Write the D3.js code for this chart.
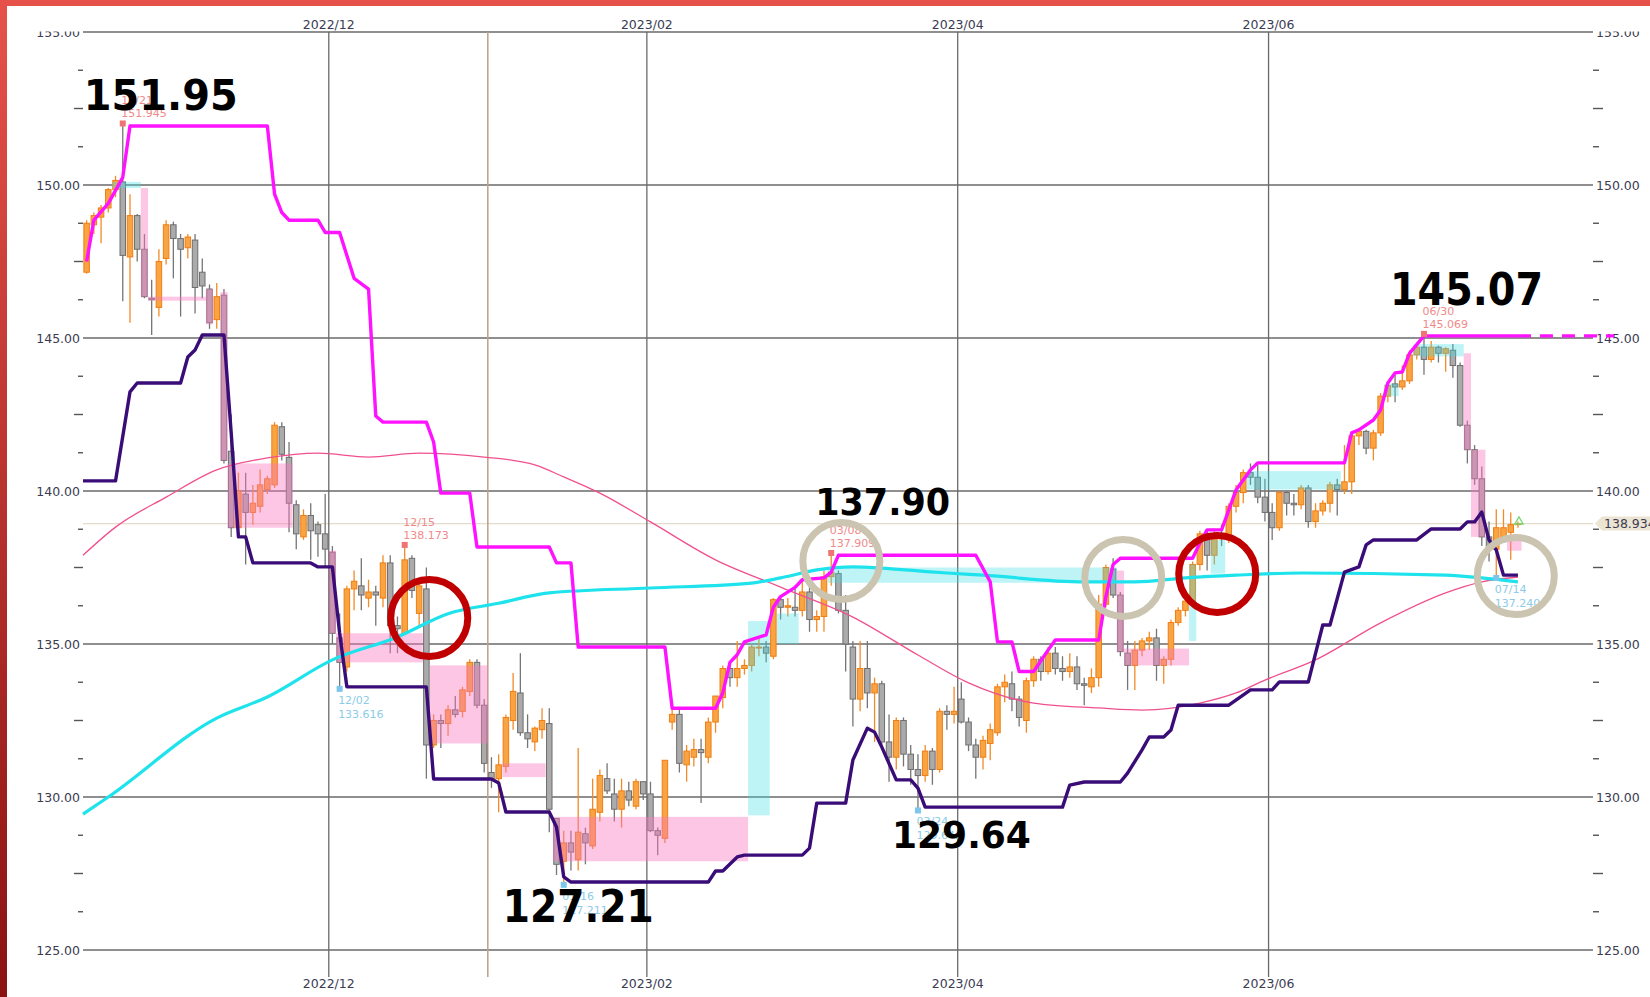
<!DOCTYPE html>
<html>
<head>
<meta charset="utf-8">
<script src="https://cdn.jsdelivr.net/npm/d3@7"></script>
<style>
  html, body { margin: 0; padding: 0; background: #fff; }
  svg { display: block; }
  .axis text, .datelabel { font-family: "DejaVu Sans", Verdana, sans-serif; font-size: 12.5px; fill: #3b3b52; }
  .small { font-family: "DejaVu Sans", Verdana, sans-serif; font-size: 11px; }
  .big { font-family: "DejaVu Sans", Verdana, sans-serif; font-weight: bold; fill: #000; }
</style>
</head>
<body>
<script>
// USD/JPY daily, 2022/10/14 - 2023/07/19
//================================
// trading days (weekdays) of the period shown
var dates = d3.utcDays(new Date(Date.UTC(2022, 9, 14)), new Date(Date.UTC(2023, 6, 20)))
  .filter(d => d.getUTCDay() > 0 && d.getUTCDay() < 6);

var opens = [
  147.15,
  148.7, 148.95, 149.25, 149.85, 150.1,
  147.65, 149.0, 147.9, 146.3, 146.0,
  147.6, 148.7, 148.25, 147.95, 148.2,
  147.15, 146.6, 145.6, 146.4, 141.3,
  138.8, 139.9, 139.3, 139.5, 140.05,
  140.2, 142.1, 141.1, 139.55, 138.5,
  139.2, 138.9, 138.6, 138.0, 135.2,
  134.25, 136.8, 136.9, 136.5, 136.7,
  136.5, 137.65, 135.6, 135.35, 137.8,
  136.0, 136.8, 131.7, 132.5, 132.4,
  132.85, 132.8, 133.45, 134.4, 133.0,
  130.8, 130.6, 131.0, 132.5, 133.4,
  132.1, 131.8, 132.2, 132.4, 129.3,
  127.9, 128.5, 127.95, 128.8, 128.4,
  129.5, 130.6, 130.1, 129.6, 130.2,
  129.7, 130.5, 130.1, 128.9, 128.65,
  132.45, 132.7, 131.05, 131.3, 131.55,
  131.3, 132.45, 133.25, 134.2, 133.9,
  134.2, 134.3, 134.9, 134.9, 134.6,
  136.45, 136.2, 136.2, 136.1, 136.7,
  135.8, 135.9, 137.2, 137.3, 136.1,
  134.9, 133.2, 134.2, 133.4, 133.7,
  131.8, 131.3, 132.5, 131.4, 130.9,
  130.7, 131.5, 130.9, 132.8, 132.7,
  133.2, 132.45, 131.7, 131.3, 131.75,
  132.1, 133.6, 133.7, 133.2, 132.5,
  133.8, 134.5, 134.1, 134.7, 134.2,
  134.1, 134.25, 133.7, 133.6, 133.9,
  136.3, 137.45, 136.6, 134.7, 134.3,
  134.8, 135.1, 135.2, 134.3, 134.5,
  135.7, 136.1, 136.4, 137.6, 138.6,
  137.9, 138.6, 138.55, 139.5, 139.95,
  140.6, 140.45, 139.8, 139.3, 138.8,
  139.95, 139.6, 139.55, 140.1, 139.0,
  139.35, 139.6, 140.2, 140.05, 140.3,
  141.8, 141.95, 141.4, 141.9, 143.1,
  143.5, 143.4, 143.6, 144.45, 144.7,
  144.3, 144.7, 144.5, 144.6, 144.1,
  142.15, 141.35, 140.4, 138.5, 138.1,
  138.5, 138.65, 138.9
];
var highs = [
  148.85,
  149.1, 149.35, 149.9, 150.3, 151.945,
  149.7, 149.05, 148.4, 146.9, 147.9,
  148.85, 148.8, 148.4, 148.4, 148.4,
  147.6, 146.75, 146.8, 146.6, 142.5,
  140.6, 140.6, 140.2, 140.7, 140.5,
  142.25, 142.25, 141.6, 139.7, 139.4,
  139.6, 139.0, 139.9, 138.2, 136.0,
  136.9, 137.4, 137.8, 137.1, 136.9,
  137.9, 137.9, 135.9, 138.173, 137.9,
  137.1, 137.5, 132.7, 132.7, 133.0,
  133.3, 133.6, 134.5, 134.5, 133.2,
  131.3, 131.4, 132.7, 134.05, 134.7,
  132.7, 132.3, 132.9, 132.9, 129.3,
  128.9, 128.9, 131.6, 129.0, 130.6,
  130.9, 131.1, 130.6, 130.6, 130.5,
  130.6, 130.5, 130.5, 129.0, 131.2,
  132.9, 132.9, 131.7, 131.9, 131.9,
  132.6, 133.3, 134.3, 134.4, 135.1,
  134.5, 135.0, 135.2, 135.1, 136.5,
  136.6, 136.5, 136.9, 137.1, 136.9,
  136.1, 137.4, 137.909, 137.4, 136.6,
  135.1, 135.1, 135.1, 133.9, 133.8,
  132.7, 132.6, 132.6, 131.7, 131.4,
  131.7, 131.6, 132.9, 133.0, 133.6,
  133.75, 132.6, 131.9, 132.0, 132.4,
  133.7, 134.0, 134.1, 133.3, 133.9,
  134.6, 134.6, 134.9, 134.9, 134.6,
  134.7, 134.6, 133.9, 134.2, 136.6,
  137.6, 137.8, 136.7, 135.1, 135.1,
  135.2, 135.4, 135.5, 134.6, 135.8,
  136.2, 136.7, 137.7, 138.7, 138.75,
  138.7, 138.9, 139.6, 140.2, 140.7,
  140.9, 140.9, 140.4, 139.6, 140.0,
  140.0, 139.9, 140.2, 140.2, 139.6,
  139.7, 140.3, 140.4, 141.5, 141.9,
  142.0, 142.0, 142.0, 143.2, 143.5,
  143.8, 144.1, 144.6, 144.8, 145.069,
  144.9, 144.75, 144.7, 144.8, 144.2,
  142.3, 141.5, 140.8, 139.0, 139.4,
  139.4, 139.3, 139.0
];
var lows = [
  147.1,
  148.4, 148.1, 149.1, 149.6, 146.2,
  145.5, 147.5, 146.3, 145.1, 145.7,
  147.4, 146.95, 145.7, 147.6, 145.8,
  146.3, 145.3, 145.3, 140.9, 138.5,
  138.7, 137.6, 138.9, 139.3, 139.9,
  140.1, 141.0, 138.65, 138.1, 138.4,
  137.75, 137.85, 137.5, 135.0, 133.616,
  134.1, 136.1, 136.1, 136.2, 135.6,
  136.2, 134.7, 134.7, 135.3, 136.5,
  135.6, 130.6, 131.6, 131.6, 132.0,
  132.6, 132.6, 133.3, 132.9, 130.8,
  130.3, 129.5, 130.8, 132.2, 132.0,
  131.6, 131.5, 131.9, 128.85, 127.45,
  127.211, 127.6, 127.6, 127.8, 128.3,
  129.2, 130.1, 129.2, 129.0, 129.7,
  129.6, 129.9, 128.85, 128.1, 128.5,
  132.2, 130.8, 130.5, 131.0, 129.8,
  131.1, 132.1, 132.9, 133.6, 133.6,
  134.0, 134.1, 134.6, 134.4, 134.5,
  135.8, 135.9, 135.9, 135.9, 135.4,
  135.4, 135.4, 136.9, 136.0, 134.1,
  132.3, 132.8, 132.9, 131.8, 131.6,
  130.5, 130.9, 131.0, 130.4, 129.642,
  130.5, 130.4, 130.8, 132.2, 132.4,
  132.4, 131.5, 130.6, 130.9, 131.2,
  132.0, 133.1, 132.8, 132.3, 132.1,
  133.6, 133.8, 134.0, 134.0, 133.8,
  133.9, 133.5, 133.0, 133.4, 133.6,
  136.2, 136.5, 134.6, 133.5, 133.5,
  134.6, 134.8, 133.8, 133.7, 134.3,
  135.6, 135.9, 136.3, 137.4, 137.4,
  137.6, 138.2, 138.3, 139.3, 139.6,
  140.2, 139.6, 139.0, 138.4, 138.7,
  139.2, 139.2, 139.4, 138.8, 138.8,
  139.2, 139.3, 139.2, 139.9, 139.9,
  141.5, 141.2, 141.0, 141.8, 142.9,
  142.9, 143.3, 143.5, 144.3, 143.8,
  144.2, 144.2, 143.9, 143.7, 142.1,
  140.9, 140.2, 138.2, 137.7, 137.24,
  138.3, 137.75, 138.8
];
var closes = [
  148.75,
  149.0, 149.25, 149.85, 150.15, 147.7,
  149.0, 147.9, 146.35, 146.25, 147.5,
  148.7, 148.25, 147.9, 148.3, 146.65,
  146.7, 145.5, 146.35, 141.0, 138.8,
  140.0, 139.3, 139.6, 140.2, 140.4,
  142.15, 141.2, 139.6, 138.6, 139.2,
  138.7, 138.6, 138.1, 135.35, 134.4,
  136.8, 137.05, 136.6, 136.7, 136.6,
  137.65, 135.6, 135.5, 137.75, 136.75,
  136.9, 131.7, 132.5, 132.4, 132.85,
  132.7, 133.5, 134.4, 133.0, 131.1,
  130.6, 131.05, 132.6, 133.45, 132.1,
  131.9, 132.25, 132.5, 129.6, 127.8,
  128.5, 128.2, 128.85, 128.5, 129.6,
  130.7, 130.2, 129.6, 130.2, 129.9,
  130.5, 130.1, 128.9, 128.75, 131.2,
  132.7, 131.1, 131.5, 131.55, 131.45,
  132.45, 133.3, 134.2, 133.9, 134.2,
  134.3, 134.9, 134.9, 134.7, 136.45,
  136.2, 136.25, 136.1, 136.7, 135.8,
  135.9, 137.2, 137.35, 136.1, 135.0,
  133.2, 134.2, 133.4, 133.7, 131.8,
  131.3, 132.5, 131.4, 130.9, 130.7,
  131.5, 130.9, 132.8, 132.7, 132.8,
  132.45, 131.7, 131.3, 131.85, 132.2,
  133.6, 133.75, 133.2, 132.6, 133.8,
  134.5, 134.1, 134.7, 134.2, 134.1,
  134.25, 133.7, 133.65, 133.9, 136.3,
  137.5, 136.6, 134.75, 134.3, 134.8,
  135.1, 135.2, 134.3, 134.5, 135.7,
  136.1, 136.4, 137.6, 138.6, 137.9,
  138.6, 138.55, 139.5, 139.95, 140.6,
  140.45, 139.8, 139.3, 138.8, 139.95,
  139.6, 139.55, 140.1, 139.0, 139.35,
  139.6, 140.2, 140.05, 140.3, 141.8,
  141.95, 141.4, 141.9, 143.1, 143.45,
  143.4, 143.6, 144.45, 144.7, 144.3,
  144.7, 144.5, 144.65, 144.1, 142.15,
  141.35, 140.4, 138.5, 138.1, 138.8,
  138.8, 138.9, 138.934
];

// channel lines, read as [bar index, price] knots
var upperChannel = [[0,147.5],[1,148.85],[3,149.4],[5,150.25],[6,151.93],[25,151.93],[26,149.7],[27,149.1],[28,148.85],
  [32,148.85],[33,148.45],[35,148.45],[37,146.95],[39,146.6],[40,142.45],[41,142.25],[47,142.25],[48,141.6],[49,139.93],
  [53,139.93],[54,138.17],[64,138.17],[65,137.65],[67,137.65],[68,134.9],[80,134.9],[81,132.9],[87,132.9],[88,133.4],
  [89,134.4],[90,134.65],[91,135.07],[94,135.3],[95,136.2],[96,136.55],[98,136.85],[99,137.1],[102,137.16],[103,137.35],
  [104,137.9],[123,137.9],[125,137.03],[126,135.07],[128,135.07],[129,134.1],[131,134.1],[133,134.8],[134,135.13],
  [140,135.13],[141,136.55],[142,137.6],[143,137.8],[153,137.8],[154,138.3],[155,138.73],[157,138.73],[159,140.03],
  [161,140.69],[162,140.92],[174,140.92],[175,141.9],[176,142.0],[178,142.32],[179,142.65],[180,143.53],[181,143.86],
  [182,143.89],[183,144.5],[185,145.07],[198,145.07]];
var upperProjection = [[198,145.07],[211.3,145.07]];
var lowerChannel = [[-0.5,140.33],[4,140.33],[6,143.24],[7,143.53],[13,143.53],[14,144.38],[15,144.61],[16,145.1],[19,145.1],
  [20,141.9],[21,138.5],[22,138.5],[23,137.65],[31,137.65],[32,137.52],[34,137.52],[35,135.36],[36,133.6],[47,133.6],
  [48,130.59],[56,130.59],[57,130.46],[58,129.51],[64,129.51],[65,129.02],[66,127.39],[67,127.22],[86,127.22],[87,127.58],
  [88,127.58],[90,128.04],[91,128.1],[99,128.1],[100,128.33],[101,129.8],[105,129.8],[106,131.21],[108,132.25],[109,132.12],
  [110,131.63],[112,130.56],[114,130.56],[115,130.29],[116,129.67],[135,129.67],[136,130.39],[138,130.49],[143,130.49],
  [144,130.78],[146,131.54],[147,131.96],[149,131.96],[150,132.19],[151,133.0],[158,133.0],[161,133.5],[164,133.5],
  [165,133.76],[169,133.76],[171,135.62],[172,135.62],[174,137.35],[176,137.52],[177,138.24],[178,138.4],[184,138.4],
  [186,138.76],[190,138.76],[191,138.99],[192,138.99],[193,139.31],[194,138.4],[195,138.07],[196,137.25],[198,137.25]];

// moving averages, read as [bar index, price] knots
var maLong = [[-0.5,129.44],[3,130.0],[18,132.58],[25,133.27],[34,134.48],[43,135.23],[50,135.99],[57,136.33],[64,136.67],
  [78,136.83],[92,136.99],[96,137.16],[101,137.42],[106,137.52],[110,137.48],[115,137.39],[119,137.32],[124,137.25],
  [138,137.03],[145,137.03],[152,137.16],[159,137.25],[168,137.32],[188,137.25],[193,137.16],[198,137.03]];
var maMid = [[-0.5,137.9],[4,138.82],[11,139.8],[18,140.69],[25,141.08],[32,141.24],[39,141.11],[46,141.24],[55,141.11],
  [62,140.85],[66,140.46],[71,139.93],[78,138.99],[87,137.75],[96,136.86],[106,135.88],[115,134.64],[122,133.73],
  [131,133.07],[140,132.91],[146,132.84],[154,133.07],[159,133.4],[163,133.82],[170,134.48],[179,135.69],[188,136.67],
  [193,137.03],[198,137.19]];

// highlighted ranges: [first bar, last bar, top, bottom]
var pinkBoxes = [[8,8,149.9,146.35],[9,16,146.35,146.22],[17,17,146.6,145.45],[19,19,146.5,141.0],[20,28,140.9,138.8],
  [34,34,138.05,135.35],[35,46,135.35,134.4],[48,55,134.3,131.75],[58,63,131.1,130.65],[65,91,129.35,127.9],
  [143,143,137.4,134.75],[144,152,134.85,134.3],[191,191,144.5,141.35],[192,193,141.35,138.5],[197,198,138.45,138.05]];
var cyanBoxes = [[4,7,150.1,149.9],[92,94,135.75,129.4],[96,98,136.0,135.0],[103,142,137.5,137.0],[153,153,137.6,135.1],
  [156,157,138.4,137.3],[161,173,140.65,140.05],[180,181,143.5,143.1],[184,190,144.8,144.4]];

// swing highs / lows: [bar index, price, date label]
var highMarks = [[5,151.945,"10/21"],[44,138.173,"12/15"],[103,137.909,"03/08"],[185,145.069,"06/30"]];
var lowMarks = [[35,133.616,"12/02"],[66,127.211,"01/16"],[115,129.642,"03/24"],[195,137.240,"07/14"]];

// big callouts: [text, bar index, price]
var callouts = [["151.95",5,151.945],["137.90",103,137.909],["127.21",66,127.211],["129.64",115,129.642],["145.07",185,145.069]];
// rings: [bar index, price]
var redRings = [[47.4,135.85],[156.4,137.29]];
var greyRings = [[104.4,137.71],[143.4,137.16],[197.7,137.22]];

var lastPrice = 138.934;
var gridMonths = ["2022/12","2023/02","2023/04","2023/06"];
var yTicks = [125, 130, 135, 140, 145, 150, 155];

// Step 1: chart frame
//================================
var svgWidth = 1650, svgHeight = 997;
var plot = {left: 83, right: 1593, top: 32, bottom: 950, gridBottom: 977};
var barStep = 7.229;

var svg = d3.select("body").append("svg")
  .attr("width", svgWidth)
  .attr("height", svgHeight);

var x = d3.scaleLinear()
  .domain([-0.5, dates.length - 0.5])
  .range([plot.left, plot.left + dates.length * barStep]);
var y = d3.scaleLinear().domain([125, 155]).range([plot.bottom, plot.top]);

var defs = svg.append("defs");
var grad = defs.append("linearGradient").attr("id", "edge").attr("x1", 0).attr("y1", 0).attr("x2", 0).attr("y2", 1);
grad.append("stop").attr("offset", "0%").attr("stop-color", "#e6524a");
grad.append("stop").attr("offset", "100%").attr("stop-color", "#8a1212");
// price labels are cut at the top of the plot
defs.append("clipPath").attr("id", "axclip").append("rect")
  .attr("x", -400).attr("y", plot.top - 0.5).attr("width", 3000).attr("height", svgHeight);

svg.append("rect").attr("width", svgWidth).attr("height", svgHeight).attr("fill", "#fff");
svg.append("rect").attr("x", 0).attr("y", 0).attr("width", svgWidth).attr("height", 6).attr("fill", "#e6524a");
svg.append("rect").attr("x", 0).attr("y", 0).attr("width", 7).attr("height", svgHeight).attr("fill", "url(#edge)");

// current price line
svg.append("line")
  .attr("x1", plot.left).attr("x2", plot.right)
  .attr("y1", y(lastPrice)).attr("y2", y(lastPrice))
  .attr("stroke", "#e4dccb").attr("stroke-width", 1.2);

// Step 2: grid
//================================
var grid = svg.append("g");
grid.selectAll(".hgrid").data(yTicks).enter().append("line")
  .attr("x1", plot.left).attr("x2", plot.right)
  .attr("y1", d => y(d)).attr("y2", d => y(d))
  .attr("stroke", "#6a6a6a").attr("stroke-width", 1.3);

// first bar of each month
var monthStarts = [];
dates.forEach(function(d, i) {
  if (i > 0 && d.getUTCMonth() !== dates[i - 1].getUTCMonth()) {
    monthStarts.push({i: i, label: d3.utcFormat("%Y/%m")(d), year: d.getUTCMonth() === 0});
  }
});
var monthLines = monthStarts.filter(m => gridMonths.indexOf(m.label) >= 0);
var yearLines = monthStarts.filter(m => m.year);

grid.selectAll(".vgrid").data(monthLines).enter().append("line")
  .attr("x1", d => x(d.i - 0.5)).attr("x2", d => x(d.i - 0.5))
  .attr("y1", plot.top).attr("y2", plot.gridBottom)
  .attr("stroke", "#6a6a6a").attr("stroke-width", 1.3);
grid.selectAll(".ygrid").data(yearLines).enter().append("line")
  .attr("x1", d => x(d.i - 0.5)).attr("x2", d => x(d.i - 0.5))
  .attr("y1", plot.top).attr("y2", plot.gridBottom)
  .attr("stroke", "#bf9f86").attr("stroke-width", 1.5);

[29, 988].forEach(function(ty) {
  grid.selectAll(null).data(monthLines).enter().append("text")
    .attr("class", "datelabel")
    .attr("x", d => x(d.i - 0.5)).attr("y", ty)
    .attr("text-anchor", "middle")
    .text(d => d.label);
});

// Step 3: price axes
//================================
svg.append("g").attr("class", "axis").attr("clip-path", "url(#axclip)")
  .attr("transform", `translate(${plot.left}, 0)`)
  .call(d3.axisLeft(y).tickValues(yTicks).tickFormat(d3.format(".2f")).tickSize(0).tickPadding(3));
svg.append("g").attr("class", "axis").attr("clip-path", "url(#axclip)")
  .attr("transform", `translate(${plot.right}, 0)`)
  .call(d3.axisRight(y).tickValues(yTicks).tickFormat(d3.format(".2f")).tickSize(0).tickPadding(3));
svg.selectAll(".axis .domain").remove();

var minor = d3.range(125, 155.01, 1.25).filter(v => v % 5 !== 0);
svg.append("g").selectAll("line").data(minor).enter().append("line")
  .attr("x1", d => plot.left - (d % 2.5 === 0 ? 9 : 5)).attr("x2", plot.left)
  .attr("y1", d => y(d)).attr("y2", d => y(d))
  .attr("stroke", "#555").attr("stroke-width", 1.4);
svg.append("g").selectAll("line").data(minor).enter().append("line")
  .attr("x1", plot.right).attr("x2", d => plot.right + (d % 2.5 === 0 ? 10 : 6))
  .attr("y1", d => y(d)).attr("y2", d => y(d))
  .attr("stroke", "#555").attr("stroke-width", 1.4);

// Step 4: candles
//================================
var bars = dates.map(function(d, i) {
  return {i: i, o: opens[i], h: highs[i], l: lows[i], c: closes[i]};
});
var bodyW = 5.5;
var candle = svg.append("g").selectAll("g").data(bars).enter().append("g");
candle.append("line")
  .attr("x1", d => x(d.i)).attr("x2", d => x(d.i))
  .attr("y1", d => y(d.h)).attr("y2", d => y(d.l))
  .attr("stroke", d => d.c >= d.o ? "#f28a26" : "#757575")
  .attr("stroke-width", 1.3);
candle.append("rect")
  .attr("x", d => x(d.i) - bodyW / 2)
  .attr("y", d => y(Math.max(d.o, d.c)))
  .attr("width", bodyW)
  .attr("height", d => Math.max(1, Math.abs(y(d.o) - y(d.c))))
  .attr("fill", d => d.c >= d.o ? "#f9a443" : "#ababab")
  .attr("stroke", d => d.c >= d.o ? "#f07d12" : "#6e6e6e")
  .attr("stroke-width", 1);

// Step 5: highlighted ranges
//================================
function drawBoxes(data, fill) {
  svg.append("g").selectAll("rect").data(data).enter().append("rect")
    .attr("x", d => x(d[0] - 0.5))
    .attr("width", d => x(d[1] + 0.5) - x(d[0] - 0.5))
    .attr("y", d => y(d[2]))
    .attr("height", d => Math.max(2, y(d[3]) - y(d[2])))
    .attr("fill", fill);
}
drawBoxes(pinkBoxes, "rgba(248, 120, 190, 0.42)");
drawBoxes(cyanBoxes, "rgba(60, 222, 230, 0.33)");

// Step 6: lines
//================================
var straight = d3.line().x(d => x(d[0])).y(d => y(d[1]));
var smooth = d3.line().x(d => x(d[0])).y(d => y(d[1])).curve(d3.curveMonotoneX);

svg.append("path").datum(maMid).attr("d", smooth)
  .attr("fill", "none").attr("stroke", "#f0508e").attr("stroke-width", 1.3);
svg.append("path").datum(maLong).attr("d", smooth)
  .attr("fill", "none").attr("stroke", "#1fe3ec").attr("stroke-width", 3.2);
svg.append("path").datum(lowerChannel).attr("d", straight)
  .attr("fill", "none").attr("stroke", "#3a0c78").attr("stroke-width", 3.4).attr("stroke-linejoin", "round");
svg.append("path").datum(upperChannel).attr("d", straight)
  .attr("fill", "none").attr("stroke", "#ff12ff").attr("stroke-width", 3.4).attr("stroke-linejoin", "round");
svg.append("path").datum(upperProjection).attr("d", straight)
  .attr("fill", "none").attr("stroke", "#ff12ff").attr("stroke-width", 3.4).attr("stroke-dasharray", "13,9");

// Step 7: swing markers
//================================
var fmt3 = d3.format(".3f");
highMarks.forEach(function(m) {
  var mx = x(m[0]), my = y(m[1]) - 2;
  svg.append("rect").attr("x", mx - 3).attr("y", my - 3).attr("width", 6).attr("height", 6).attr("fill", "#f07474");
  svg.append("text").attr("class", "small").attr("x", mx - 1.5).attr("y", my - 19).attr("fill", "#f08a8a").text(m[2]);
  svg.append("text").attr("class", "small").attr("x", mx - 1.5).attr("y", my - 6).attr("fill", "#f08a8a").text(fmt3(m[1]));
});
lowMarks.forEach(function(m) {
  var mx = x(m[0]), my = y(m[1]) + 2.5;
  svg.append("rect").attr("x", mx - 3).attr("y", my - 3).attr("width", 6).attr("height", 6).attr("fill", "#7cc6ec");
  svg.append("text").attr("class", "small").attr("x", mx - 1.5).attr("y", my + 15).attr("fill", "#8ccbe8").text(m[2]);
  svg.append("text").attr("class", "small").attr("x", mx - 1.5).attr("y", my + 29).attr("fill", "#8ccbe8").text(fmt3(m[1]));
});

// latest bar marker
svg.append("path")
  .attr("d", d3.symbol(d3.symbolTriangle, 30))
  .attr("transform", `translate(${x(dates.length - 1) + 1}, ${y(lastPrice) - 2})`)
  .attr("fill", "none").attr("stroke", "#74d874").attr("stroke-width", 1.3);

// Step 8: rings
//================================
svg.append("g").selectAll("circle").data(redRings).enter().append("circle")
  .attr("cx", d => x(d[0])).attr("cy", d => y(d[1])).attr("r", 38.5)
  .attr("fill", "none").attr("stroke", "#c00000").attr("stroke-width", 7);
svg.append("g").selectAll("circle").data(greyRings).enter().append("circle")
  .attr("cx", d => x(d[0])).attr("cy", d => y(d[1])).attr("r", 38.5)
  .attr("fill", "none").attr("stroke", "#cbc4b0").attr("stroke-width", 7);

// Step 9: big callouts, placed relative to their swing point
//================================
var calloutLayout = {
  "151.95": {dx: -39, dy: -15, size: 43, w: 154},
  "137.90": {dx: -16, dy: -40, size: 37, w: 135},
  "127.21": {dx: -61, dy: 40, size: 44, w: 151},
  "129.64": {dx: -26, dy: 40, size: 38, w: 139},
  "145.07": {dx: -34, dy: -31, size: 44, w: 153}
};
callouts.forEach(function(c) {
  var L = calloutLayout[c[0]];
  svg.append("text").attr("class", "big")
    .attr("x", x(c[1]) + L.dx).attr("y", y(c[2]) + L.dy)
    .attr("font-size", L.size)
    .attr("textLength", L.w).attr("lengthAdjust", "spacingAndGlyphs")
    .text(c[0]);
});

// Step 10: last price tag
//================================
var ty = y(lastPrice);
svg.append("path")
  .attr("d", `M${plot.right + 2},${ty} L${plot.right + 9},${ty - 7} L${svgWidth},${ty - 7} L${svgWidth},${ty + 7} L${plot.right + 9},${ty + 7} Z`)
  .attr("fill", "#ece4d3");
svg.append("text").attr("class", "datelabel")
  .attr("x", plot.right + 11).attr("y", ty + 4.5)
  .text(d3.format(".3f")(lastPrice));
</script>
</body>
</html>
